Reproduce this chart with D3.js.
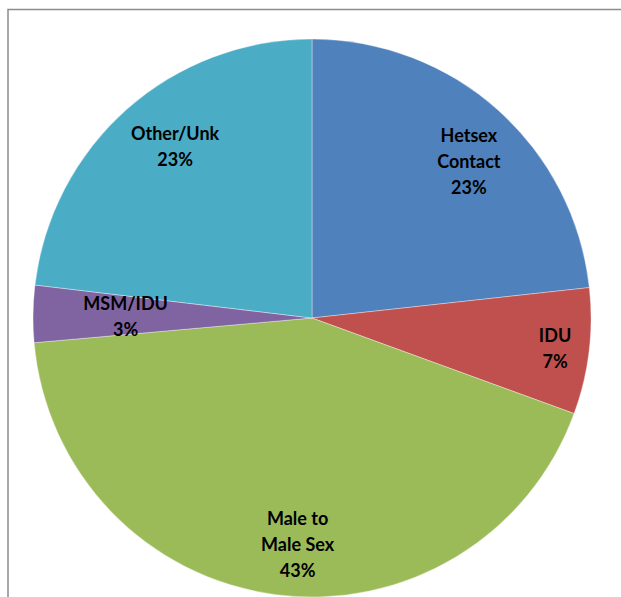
<!DOCTYPE html>
<html>
<head>
<meta charset="utf-8">
<script src="https://cdn.jsdelivr.net/npm/d3@7"></script>
<style>
  html, body { margin: 0; padding: 0; background: #fff; overflow: hidden; }
  .label { font-family: Lato, "Open Sans", sans-serif; font-weight: bold; font-size: 18px; fill: #000; }
</style>
</head>
<body>
<div class="chart"></div>
<script>
// data
var categories = ['Hetsex Contact', 'IDU', 'Male to Male Sex', 'MSM/IDU', 'Other/Unk'];
var values = [23.25, 7.3, 43.0, 3.3, 23.1];
var labelLines = [['Hetsex', 'Contact'], ['IDU'], ['Male to', 'Male Sex'], ['MSM/IDU'], ['Other/Unk']];
var percentLabels = ['23%', '7%', '43%', '3%', '23%'];

// layout
var colors = ['#4F81BD', '#C0504D', '#9BBB59', '#8064A2', '#4BACC6'];
var labelRadius = [0.793, 0.878, 0.815, 0.668, 0.785];
var labelNudgeDeg = [3.3, 0.25, -3.85, -0.55, 2.9];

var fullWidth = 621;
var fullHeight = 597;
var cx = 312, cy = 318, radius = 279;

var svg = d3.select('.chart')
            .append('svg')
            .attr('width', fullWidth)
            .attr('height', fullHeight);

// chart frame
svg.append('rect')
   .attr('x', 8)
   .attr('y', 9.5)
   .attr('width', 700)
   .attr('height', 700)
   .attr('fill', 'none')
   .attr('stroke', '#8c8c8c')
   .attr('stroke-width', 1.5);

var pie = d3.pie()
            .sort(null)
            .value(function (d) { return d; });

var arcs = pie(values);

var arc = d3.arc()
            .innerRadius(0)
            .outerRadius(radius);

var g = svg.append('g')
           .attr('transform', 'translate(' + cx + ',' + cy + ')');

g.selectAll('path.slice')
 .data(arcs)
 .enter().append('path')
 .attr('class', 'slice')
 .attr('d', arc)
 .attr('fill', function (d, i) { return colors[i]; })
 .attr('stroke', '#ffffff')
 .attr('stroke-opacity', 0.6)
 .attr('stroke-width', 0.6);

var lineHeight = 26;

var labels = g.selectAll('text.label')
              .data(arcs)
              .enter().append('text')
              .attr('class', 'label')
              .attr('text-anchor', 'middle')
              .attr('transform', function (d, i) {
                  var a = (d.startAngle + d.endAngle) / 2 + labelNudgeDeg[i] * Math.PI / 180;
                  var c = d3.pointRadial(a, radius * labelRadius[i]);
                  return 'translate(' + c[0] + ',' + c[1] + ')';
              });

labels.each(function (d, i) {
    var lines = labelLines[i].concat([percentLabels[i]]);
    var t = d3.select(this);
    var y0 = -(lines.length - 1) * lineHeight / 2;
    lines.forEach(function (s, k) {
        t.append('tspan')
         .attr('x', 0)
         .attr('y', y0 + k * lineHeight)
         .attr('dy', '0.35em')
         .text(s);
    });
});
</script>
</body>
</html>
